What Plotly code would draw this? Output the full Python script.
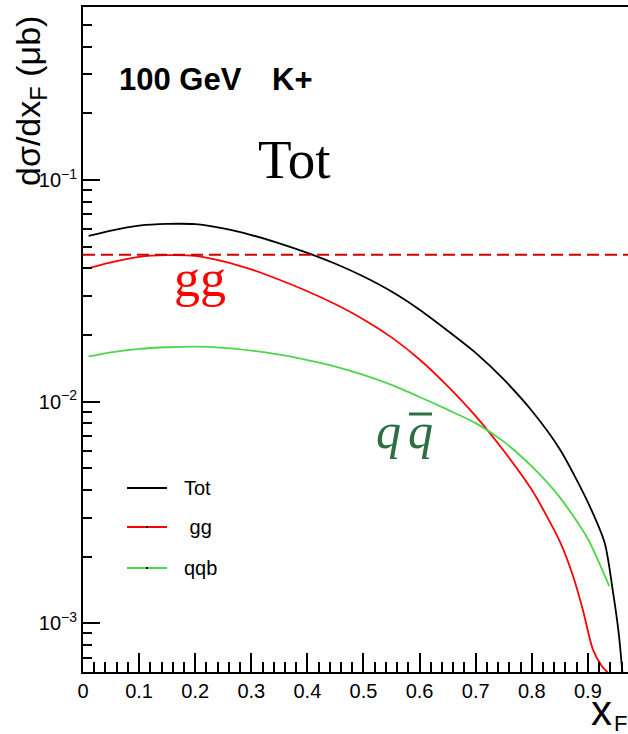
import plotly.graph_objects as go

# Feynman-x grid and differential cross sections (mub) for 100 GeV K+
x_gg = [0.01, 0.05, 0.10, 0.15, 0.20, 0.25, 0.30, 0.35, 0.40, 0.45, 0.50, 0.55,
        0.60, 0.65, 0.70, 0.75, 0.80, 0.85, 0.874, 0.891, 0.909, 0.925, 0.938]
gg = [0.0400, 0.0425, 0.0450, 0.0458, 0.0455, 0.0430, 0.0395, 0.0355, 0.0315,
      0.0275, 0.0235, 0.0195, 0.0155, 0.01175, 0.0086, 0.0060, 0.0040, 0.00234,
      0.00162, 0.00115, 0.00076, 0.00064, 0.00059]

x_qq = [0.01, 0.05, 0.10, 0.15, 0.20, 0.25, 0.30, 0.35, 0.40, 0.45, 0.50, 0.55,
        0.60, 0.65, 0.70, 0.75, 0.80, 0.85, 0.90, 0.938]
qqb = [0.0160, 0.0167, 0.0173, 0.0176, 0.0177, 0.0175, 0.0170, 0.0163, 0.0154,
       0.0144, 0.0132, 0.0119, 0.0105, 0.0092, 0.0080, 0.0066, 0.0051, 0.0037,
       0.0024, 0.00147]

x_tot = [0.01, 0.05, 0.10, 0.15, 0.20, 0.25, 0.30, 0.35, 0.40, 0.45, 0.50, 0.55,
         0.60, 0.65, 0.70, 0.75, 0.80, 0.85, 0.898, 0.930, 0.945, 0.955, 0.962]
tot = [0.0560, 0.0592, 0.0623, 0.0634, 0.0632, 0.0605, 0.0565, 0.0518, 0.0469,
       0.0419, 0.0367, 0.0314, 0.0260, 0.0209, 0.0166, 0.0126, 0.0091, 0.0061,
       0.0036, 0.0023, 0.00137, 0.00090, 0.00058]

ref_level = 0.046  # horizontal reference line

x_ticks = [0, 0.1, 0.2, 0.3, 0.4, 0.5, 0.6, 0.7, 0.8, 0.9]
x_ticklabels = ["0", "0.1", "0.2", "0.3", "0.4", "0.5", "0.6", "0.7", "0.8", "0.9"]
y_ticks = [1e-3, 1e-2, 1e-1]
y_ticklabels = ["10<sup>\u22123</sup>", "10<sup>\u22122</sup>", "10<sup>\u22121</sup>"]

legend_names = ["Tot", " gg", "qqb"]
legend_colors = ["#000000", "#ff0000", "#4cd64a"]

W, H = 628, 734
ML, MR, MT, MB = 83, 0, 7, 62
PW, PH = W - ML - MR, H - MT - MB


def px(xp):
    return (xp - ML) / PW


def py(yp):
    return (H - MB - yp) / PH


fig = go.Figure()
for xs, ys, col in [(x_tot, tot, legend_colors[0]),
                    (x_gg, gg, legend_colors[1]),
                    (x_qq, qqb, legend_colors[2])]:
    fig.add_trace(go.Scatter(x=xs, y=ys, mode="lines",
                             line=dict(color=col, width=1.8, shape="spline", smoothing=0.7),
                             showlegend=False))
fig.add_trace(go.Scatter(x=[0, 0.975], y=[ref_level, ref_level], mode="lines",
                         line=dict(color="#cc0000", width=2, dash="12px,6px"),
                         showlegend=False))

# minor ticks on the log axis
minor_y = []
for dec in [1e-4, 1e-3, 1e-2, 1e-1]:
    for m in range(2, 10):
        minor_y.append(m * dec)

shapes = []
annotations = []
# legend entries drawn by hand
leg_y = [488, 527, 568]
for name, col, yy in zip(legend_names, legend_colors, leg_y):
    shapes.append(dict(type="line", xref="paper", yref="paper",
                       x0=px(127), x1=px(167), y0=py(yy), y1=py(yy),
                       line=dict(color=col, width=1.8)))
    shapes.append(dict(type="rect", xref="paper", yref="paper",
                       x0=px(146), x1=px(148), y0=py(yy - 1), y1=py(yy + 1),
                       line=dict(width=0), fillcolor="#000000"))
    annotations.append(dict(x=px(182), y=py(yy), xref="paper", yref="paper",
                            text=name.replace(" ", "&nbsp;"), showarrow=False,
                            xanchor="left", yanchor="middle",
                            font=dict(family="Liberation Sans", size=20, color="#000000")))

# overline of the anti-quark symbol
shapes.append(dict(type="line", xref="paper", yref="paper",
                   x0=px(409), x1=px(432), y0=py(414), y1=py(414),
                   line=dict(color="#2d6e45", width=3)))

annotations += [
    dict(x=px(117), y=py(80), xref="paper", yref="paper", text="<b>100 GeV</b>",
         showarrow=False, xanchor="left", yanchor="middle",
         font=dict(family="Liberation Sans", size=31, color="#000000")),
    dict(x=px(270), y=py(80), xref="paper", yref="paper", text="<b>K+</b>",
         showarrow=False, xanchor="left", yanchor="middle",
         font=dict(family="Liberation Sans", size=31, color="#000000")),
    dict(x=px(294), y=py(160), xref="paper", yref="paper", text="Tot",
         showarrow=False, xanchor="center", yanchor="middle",
         font=dict(family="Liberation Serif", size=55, color="#000000")),
    dict(x=px(200), y=py(279), xref="paper", yref="paper", text="gg",
         showarrow=False, xanchor="center", yanchor="middle",
         font=dict(family="Liberation Serif", size=52, color="#ff0000")),
    dict(x=px(388), y=py(431), xref="paper", yref="paper", text="<i>q</i>",
         showarrow=False, xanchor="center", yanchor="middle",
         font=dict(family="Liberation Serif", size=50, color="#2d6e45")),
    dict(x=px(420), y=py(431), xref="paper", yref="paper", text="<i>q</i>",
         showarrow=False, xanchor="center", yanchor="middle",
         font=dict(family="Liberation Serif", size=50, color="#2d6e45")),
    dict(x=(31 - ML) / PW, y=py(101), xref="paper", yref="paper",
         text="d\u03c3/dx<sub>F</sub> (\u03bcb)", textangle=-90,
         showarrow=False, xanchor="center", yanchor="middle",
         font=dict(family="Liberation Sans", size=34, color="#000000")),
    dict(x=px(601), y=py(711), xref="paper", yref="paper",
         text="x", showarrow=False, xanchor="center", yanchor="middle",
         font=dict(family="Liberation Sans", size=42, color="#000000")),
    dict(x=px(620), y=py(723), xref="paper", yref="paper",
         text="F", showarrow=False, xanchor="center", yanchor="middle",
         font=dict(family="Liberation Sans", size=22, color="#000000")),
]

fig.update_layout(
    width=W, height=H,
    margin=dict(l=ML, r=MR, t=MT, b=MB),
    paper_bgcolor="white", plot_bgcolor="white",
    shapes=shapes, annotations=annotations,
    xaxis=dict(range=[0, 0.9715], showgrid=False, zeroline=False,
               showline=True, linecolor="black", linewidth=2, mirror=True,
               ticks="inside", ticklen=19, tickwidth=1.5, tickcolor="black",
               tickmode="array", tickvals=x_ticks, ticktext=x_ticklabels,
               tickfont=dict(family="Liberation Sans", size=20, color="black"),
               minor=dict(dtick=0.02, tick0=0, ticks="inside", ticklen=10,
                          tickwidth=1.5, tickcolor="black", showgrid=False)),
    yaxis=dict(type="log", range=[-3.22, -0.219], showgrid=False, zeroline=False,
               showline=True, linecolor="black", linewidth=2,
               ticks="inside", ticklen=17, tickwidth=1.5, tickcolor="black",
               tickmode="array", tickvals=y_ticks, ticktext=y_ticklabels,
               tickfont=dict(family="Liberation Sans", size=20, color="black"),
               minor=dict(tickmode="array", tickvals=minor_y, ticks="inside",
                          ticklen=9, tickwidth=1.5, tickcolor="black", showgrid=False)),
)

fig.write_html("out.html")
